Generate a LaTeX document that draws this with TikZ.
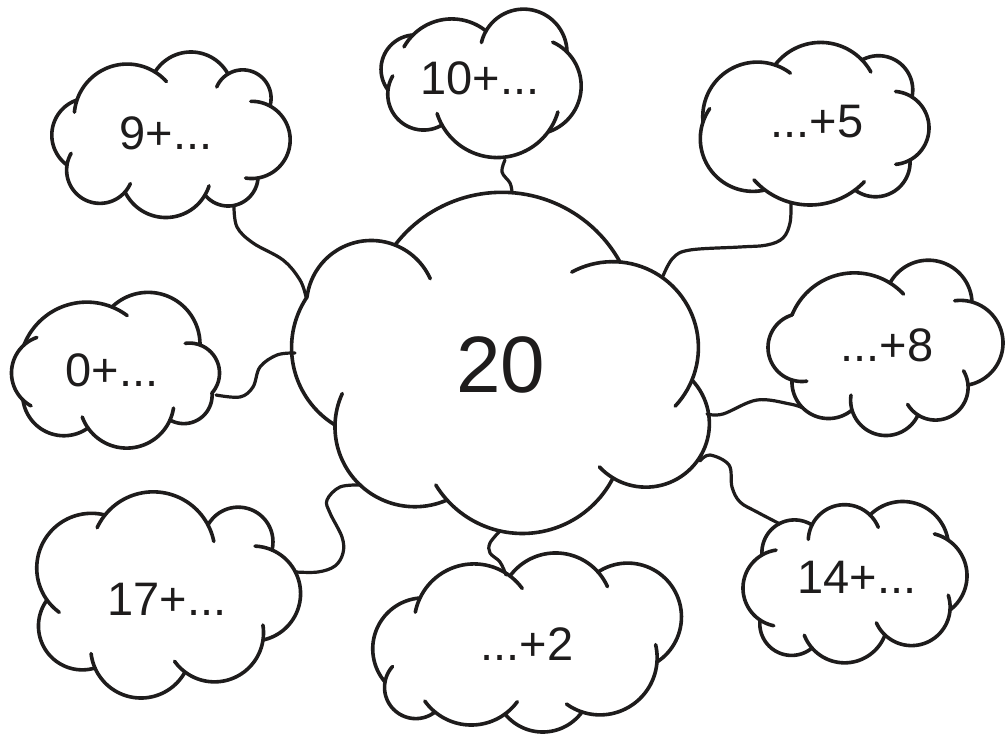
\documentclass[tikz,border=0pt]{standalone}
\usepackage{fontspec}
\setmainfont{Liberation Sans}
\definecolor{ink}{RGB}{30,28,28}
\tikzset{
  cloudline/.style={line width=3.6pt, line cap=round, line join=round, draw=ink},
  link/.style={line width=3.2pt, line cap=round, line join=round, draw=ink},
  lbl/.style={inner sep=0pt, anchor=base, text=ink, font=\fontsize{47}{47}\selectfont},
  biglbl/.style={inner sep=0pt, anchor=base, text=ink, font=\fontsize{80}{80}\selectfont}
}
% one bump of a cloud: circular arc from (#1,#2) to (#3,#4), bulge #5, tails #6 (start) #7 (end) in px
\newcommand\cbump[7]{%
 \pgfmathsetmacro\cbdx{#3-(#1)}%
 \pgfmathsetmacro\cbdy{#4-(#2)}%
 \pgfmathsetmacro\cbc{veclen(\cbdx,\cbdy)}%
 \pgfmathsetmacro\cbnx{\cbdy/\cbc}%
 \pgfmathsetmacro\cbny{(0-(\cbdx))/\cbc}%
 \pgfmathsetmacro\cbr{\cbc/(8*#5)*\cbc+#5/2}%
 \pgfmathsetmacro\cbox{(#1+#3)/2+\cbnx*(#5-\cbr)}%
 \pgfmathsetmacro\cboy{(#2+#4)/2+\cbny*(#5-\cbr)}%
 \pgfmathsetmacro\cbb{atan2(\cbny,\cbnx)}%
 \pgfmathsetmacro\cbph{2*atan(2*#5/\cbc)}%
 \pgfmathsetmacro\cbs{\cbb-\cbph-1.25*#6/\cbr*57.2958}%
 \pgfmathsetmacro\cbe{\cbb+\cbph+1.25*#7/\cbr*57.2958}%
 \draw[cloudline] plot[domain=\cbs:\cbe, samples=48] ({\cbox+\cbr*cos(\x)},{\cboy+\cbr*sin(\x)});%
}
\begin{document}
\begin{tikzpicture}[x=1pt,y=-1pt]
\fill[white] (0,0) rectangle (1005,735);
\useasboundingbox (0,0) rectangle (1005,735);

% central cloud
\cbump{307}{297}{395}{245}{25}{0}{40}
\cbump{395}{245}{620}{262}{61}{0}{0}
\cbump{620}{262}{692}{380}{35}{40}{25}
\cbump{692}{380}{613}{478}{55}{0}{14}
\cbump{613}{478}{447}{500}{44}{0}{15}
\cbump{447}{500}{335}{425}{37}{0}{26}
\cbump{335}{425}{307}{297}{28}{0}{0}
\node[biglbl] (t20) at (501,393) {20};

% 9+ cloud
\cbump{67}{165}{77}{100}{20}{0}{0}
\cbump{77}{100}{155}{72}{20}{10}{12}
\cbump{155}{72}{228}{74}{21}{0}{0}
\cbump{228}{74}{270}{106}{18}{14}{0}
\cbump{270}{106}{258}{178}{26}{16}{10}
\cbump{258}{178}{205}{195}{19}{0}{0}
\cbump{205}{195}{125}{192}{24}{8}{0}
\cbump{125}{192}{67}{165}{24}{8}{10}
\node[lbl] (t9) at (166,150) {9+...};

% 10+ cloud
\cbump{388}{90}{413}{35}{18}{0}{0}
\cbump{413}{35}{486}{31}{14}{12}{0}
\cbump{486}{31}{567}{52}{32}{10}{0}
\cbump{567}{52}{548}{132}{23}{14}{0}
\cbump{548}{132}{442}{125}{29}{18}{10}
\cbump{442}{125}{388}{90}{20}{0}{12}
\node[lbl] (t10) at (480,95) {10+...};

% ...+5 cloud
\cbump{703}{122}{775}{65}{25}{0}{14}
\cbump{775}{65}{862}{60}{20}{0}{12}
\cbump{862}{60}{912}{97}{20}{0}{0}
\cbump{912}{97}{910}{160}{18}{14}{12}
\cbump{910}{160}{855}{190}{20}{0}{0}
\cbump{855}{190}{765}{190}{15}{10}{12}
\cbump{765}{190}{703}{122}{27}{0}{12}
\node[lbl] (t5) at (817,138) {...+5};

% 0+ cloud
\cbump{24}{345}{112}{307}{20}{0}{14}
\cbump{112}{307}{200}{345}{32}{0}{0}
\cbump{200}{345}{212}{393}{13}{12}{0}
\cbump{212}{393}{170}{420}{15}{0}{0}
\cbump{170}{420}{88}{428}{24}{10}{10}
\cbump{88}{428}{23}{400}{20}{0}{0}
\cbump{23}{400}{24}{345}{12}{8}{12}
\node[lbl] (t0) at (112,387) {0+...};

% ...+8 cloud
\cbump{792}{315}{890}{283}{24}{0}{14}
\cbump{890}{283}{972}{302}{32}{0}{0}
\cbump{972}{302}{968}{385}{33}{14}{0}
\cbump{968}{385}{918}{415}{18}{12}{12}
\cbump{918}{415}{852}{410}{23}{0}{12}
\cbump{852}{410}{792}{380}{22}{0}{0}
\cbump{792}{380}{792}{315}{24}{12}{0}
\node[lbl] (t8) at (887,362) {...+8};

% 17+ cloud
\cbump{47}{600}{105}{515}{36}{14}{0}
\cbump{105}{515}{208}{525}{28}{12}{14}
\cbump{208}{525}{272}{550}{30}{0}{0}
\cbump{272}{550}{263}{640}{33}{14}{0}
\cbump{263}{640}{185}{672}{24}{12}{12}
\cbump{185}{672}{95}{668}{28}{0}{12}
\cbump{95}{668}{47}{600}{30}{0}{0}
\node[lbl] (t17) at (167,615) {17+...};

% ...+2 cloud
\cbump{385}{682}{420}{598}{28}{0}{0}
\cbump{420}{598}{510}{576}{22}{12}{14}
\cbump{510}{576}{598}{572}{21}{0}{14}
\cbump{598}{572}{657}{662}{54}{0}{0}
\cbump{657}{662}{582}{712}{22}{14}{14}
\cbump{582}{712}{505}{714}{19}{0}{0}
\cbump{505}{714}{435}{712}{12}{14}{12}
\cbump{435}{712}{385}{682}{20}{0}{14}
\node[lbl] (t2) at (527,660) {...+2};

% 14+ cloud
\cbump{760}{620}{762}{555}{18}{12}{12}
\cbump{762}{555}{812}{525}{18}{0}{0}
\cbump{812}{525}{870}{515}{15}{12}{12}
\cbump{870}{515}{948}{540}{25}{0}{0}
\cbump{948}{540}{950}{610}{18}{12}{0}
\cbump{950}{610}{885}{635}{22}{12}{12}
\cbump{885}{635}{812}{648}{21}{0}{12}
\cbump{812}{648}{760}{620}{20}{0}{0}
\node[lbl] (t14) at (857,593) {14+...};

% connector end points
\coordinate (k9a) at (234,206);   \coordinate (k9b) at (306,297);
\coordinate (k10a) at (505,160);  \coordinate (k10b) at (512,192);
\coordinate (k5a) at (791,204);   \coordinate (k5b) at (663,276);
\coordinate (k0a) at (216,395);   \coordinate (k0b) at (295,353);
\coordinate (k8a) at (803,408);   \coordinate (k8b) at (707,414);
\coordinate (k14a) at (780,524);  \coordinate (k14b) at (700,461);
\coordinate (k2a) at (506,575);   \coordinate (k2b) at (500,531);
\coordinate (k17a) at (296,572);  \coordinate (k17b) at (361,485);

% connectors
\draw[link] plot[smooth, tension=0.6] coordinates {(k9a) (237,227) (253,243) (283,260) (300,280) (k9b)};
\draw[link] plot[smooth, tension=0.6] coordinates {(k10a) (502,172) (510,183) (k10b)};
\draw[link] plot[smooth, tension=0.6] coordinates {(k5a) (790,223) (783,238) (767,245) (740,247) (690,250) (673,258) (k5b)};
\draw[link] plot[smooth, tension=0.6] coordinates {(k0a) (240,397) (253,387) (260,367) (277,355) (k0b)};
\draw[link] plot[smooth, tension=0.6] coordinates {(k8b) (723,414) (757,400) (790,404) (k8a)};
\draw[link] plot[smooth, tension=0.6] coordinates {(k14b) (710,455) (729,465) (732,487) (740,502) (757,512) (k14a)};
\draw[link] plot[smooth, tension=0.6] coordinates {(k2b) (490,543) (490,553) (500,562) (k2a)};
\draw[link] plot[smooth, tension=0.6] coordinates {(k17b) (340,487) (327,500) (330,513) (342,537) (343,553) (335,566) (318,572) (k17a)};
\end{tikzpicture}
\end{document}
